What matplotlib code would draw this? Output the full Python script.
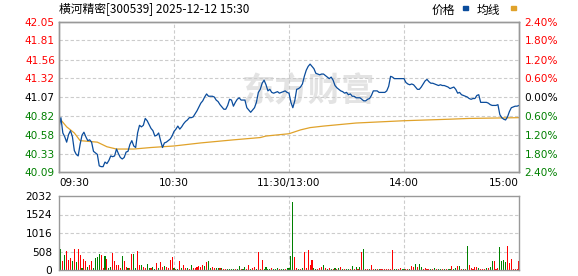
import matplotlib.pyplot as plt
from matplotlib.patches import Rectangle

title = "横河精密[300539] 2025-12-12 15:30"
legend_names = ["价格", "均线"]
watermark = "东方财富"

# one price per minute, 09:30 -> 11:30 / 13:00 -> 15:00 (241 points)
price = [
    40.67, 40.80, 40.60, 40.55, 40.48, 40.58, 40.63, 40.55, 40.37, 40.32,
    40.30, 40.45, 40.57, 40.61, 40.55, 40.50, 40.51, 40.48, 40.36, 40.34,
    40.32, 40.17, 40.16, 40.16, 40.22, 40.20, 40.24, 40.30, 40.29, 40.30,
    40.39, 40.33, 40.28, 40.26, 40.28, 40.35, 40.36, 40.45, 40.50, 40.43,
    40.41, 40.60, 40.70, 40.68, 40.70, 40.79, 40.76, 40.71, 40.66, 40.63,
    40.56, 40.57, 40.60, 40.50, 40.41, 40.47, 40.48, 40.50, 40.52, 40.56,
    40.62, 40.65, 40.69, 40.65, 40.68, 40.72, 40.75, 40.77, 40.80, 40.80,
    40.81, 40.85, 40.89, 40.94, 40.99, 41.02, 41.07, 41.11, 41.08, 41.08,
    41.08, 41.07, 41.03, 41.01, 40.97, 40.94, 40.91, 40.91, 40.96, 41.04,
    41.03, 40.95, 41.00, 41.04, 41.06, 41.03, 41.03, 41.03, 40.93, 40.90,
    40.87, 40.90, 40.93, 41.00, 41.13, 41.17, 41.25, 41.29, 41.23, 41.15,
    41.17, 41.13, 41.12, 41.13, 41.14, 41.12, 41.13, 41.14, 41.15, 41.13,
    41.12, 41.00, 40.93, 41.02, 41.17, 41.18, 41.20, 41.24, 41.34, 41.42,
    41.47, 41.50, 41.47, 41.44, 41.38, 41.37, 41.36, 41.37, 41.37, 41.35,
    41.33, 41.31, 41.33, 41.29, 41.22, 41.19, 41.17, 41.15, 41.14, 41.12,
    41.13, 41.10, 41.11, 41.08, 41.08, 41.06, 41.06, 41.06, 41.04, 41.02,
    41.02, 41.04, 41.05, 41.09, 41.15, 41.15, 41.15, 41.13, 41.13, 41.13,
    41.13, 41.15, 41.21, 41.34, 41.33, 41.31, 41.31, 41.31, 41.31, 41.31,
    41.31, 41.26, 41.24, 41.23, 41.24, 41.23, 41.20, 41.17, 41.17, 41.20,
    41.24, 41.28, 41.30, 41.27, 41.25, 41.25, 41.24, 41.23, 41.22, 41.23,
    41.22, 41.22, 41.21, 41.20, 41.18, 41.19, 41.20, 41.17, 41.12, 41.13,
    41.10, 41.09, 41.08, 41.07, 41.05, 41.04, 41.05, 41.05, 41.09, 41.10,
    41.00, 41.00, 41.00, 41.00, 40.99, 40.97, 40.96, 40.96, 40.96, 40.97,
    40.84, 40.80, 40.78, 40.77, 40.81, 40.88, 40.93, 40.94, 40.95, 40.95,
    40.96,
]

# average price line, read at a few minutes
avg_minute = [0, 4, 8, 11, 20, 25, 30, 39, 48, 60, 74, 91, 105, 108, 120,
              126, 131, 138, 155, 180, 204, 214, 240]
avg_price = [40.80, 40.68, 40.60, 40.50, 40.48, 40.42, 40.39, 40.39, 40.41,
             40.43, 40.47, 40.51, 40.54, 40.56, 40.59, 40.64, 40.67, 40.69,
             40.73, 40.76, 40.78, 40.79, 40.80]

# volume per minute and direction (r = up, g = down), row by row
volume = [
    395, 590, 235, 420, 517, 280, 330, 235, 565, 207, 590, 400, 47,
    310, 235, 94, 140, 235, 66, 330, 350, 450, 420, 47, 375, 300, 47, 75,
    470, 235, 140, 140, 47, 395, 254, 94, 47, 47,
    450, 450, 47, 517, 140, 140, 94, 47, 170, 47, 66, 94, 28, 188, 47, 216,
    94, 113, 75, 47, 263, 350, 47, 28, 28,
    254, 66, 140, 66, 47, 28, 140, 47, 66, 94, 113, 75, 140, 122, 207, 235,
    47, 75, 47, 66, 66, 47, 66, 28, 28,
    28, 28, 28, 28, 28, 28, 122, 28, 28, 94, 28, 140, 28, 47, 94, 28, 490,
    28, 280, 28, 75, 28, 28, 47, 28,
    28, 47, 28, 28, 28, 28, 47, 47, 395,
    1880, 350, 47, 28, 28, 47, 500, 66, 550, 140, 280, 66, 28, 28, 66, 94,
    140, 66, 28, 47, 28,
    28, 47, 28, 47, 75, 28, 28, 28, 28, 28, 113, 28, 94, 28, 94, 490, 565,
    28, 28, 28, 140, 28, 28, 28, 28, 28,
    28, 28, 28, 28, 28, 545, 28, 28, 28, 47, 28, 28, 28, 28, 28, 113, 94,
    170, 94, 170, 75, 28, 47, 28, 28, 28,
    28, 47, 28, 28, 28, 28, 28, 28, 28, 28, 113, 28, 47, 113, 113, 28, 28,
    28, 670, 140, 66, 28, 94, 94, 47, 28,
    28, 28, 47, 47, 94, 250, 235, 28, 66, 640, 250, 275, 230, 660, 200, 300,
    28, 28, 28, 250,
]
vol_dir = (
    "ggrgrrrgrgrrg"
    "rrgrrggggrrgrggrrrrrgrrgr"
    "rggrrgrrggrggrgrrgrrrrgrg"
    "rgrrgrgrrrrrrgrggrrggrgrr"
    "ggggrggrggrrgrrgrrrggggrg"
    "ggrggrggg"
    "grrgrgrrrrrggrrrgrgrg"
    "rgrgrgrggrgrgrgrgrrgrrgrgr"
    "rrrrrrggrrggrrgrrgrggrrrrg"
    "rgrggrgrggrggrgrgrgrrrrrgr"
    "rrgrggrrrggggrrrrrrr"
)
assert len(volume) == len(vol_dir) == len(price)

price_ticks = [42.05, 41.81, 41.56, 41.32, 41.07, 40.82, 40.58, 40.33, 40.09]
pct_labels = ["2.40%", "1.80%", "1.20%", "0.60%", "0.00%",
              "0.60%", "1.20%", "1.80%", "2.40%"]
time_ticks = [0, 60, 120, 180, 240]
time_labels = ["09:30", "10:30", "11:30/13:00", "14:00", "15:00"]
vol_ticks = [0, 508, 1016, 1524, 2032]

RED = "#ff0000"
GREEN = "#008000"
BLUE = "#0a4c9c"
ORANGE = "#e0a22a"
FRAME = "#999999"
GRID = "#cccccc"
CJK = ["Noto Sans CJK SC", "DejaVu Sans"]

W, H = 578, 276
fig = plt.figure(figsize=(W / 100, H / 100), dpi=100)
ax = fig.add_axes([59 / W, 1 - 172 / H, 460 / W, 150 / H])
axv = fig.add_axes([59 / W, 1 - 270 / H, 460 / W, 74 / H])

def tick_color(i, n):
    mid = n // 2
    return RED if i < mid else ("black" if i == mid else GREEN)

# price panel
ax.plot(range(len(price)), price, color=BLUE, lw=0.9, zorder=3)
ax.plot(avg_minute, avg_price, color=ORANGE, lw=0.9, zorder=2)
ax.set_xlim(0, 240)
ax.set_ylim(price_ticks[-1], price_ticks[0])
for p in price_ticks[1:-1]:
    ax.axhline(p, color=GRID, lw=0.8, ls=(0, (3, 2)), zorder=1)
for t in time_ticks[1:-1]:
    ax.axvline(t, color=GRID, lw=0.8, ls=(0, (3, 2)), zorder=1)
ax.set_yticks(price_ticks)
ax.set_yticklabels([f"{p:.2f}" for p in price_ticks], fontsize=7.6)
for i, lab in enumerate(ax.get_yticklabels()):
    lab.set_color(tick_color(i, len(price_ticks)))
ax.set_xticks(time_ticks)
ax.set_xticklabels(time_labels, fontsize=7.5)
xl = ax.get_xticklabels()
xl[0].set_ha("left")
xl[-1].set_ha("right")
ax.tick_params(length=0, pad=3)
ax.tick_params(axis="x", pad=4)

ax2 = ax.twinx()
ax2.set_ylim(ax.get_ylim())
ax2.set_yticks(price_ticks)
ax2.set_yticklabels(pct_labels, fontsize=7.6)
for i, lab in enumerate(ax2.get_yticklabels()):
    lab.set_color(tick_color(i, len(price_ticks)))
ax2.tick_params(length=0, pad=4)

ax.text(130, 41.13, watermark, color="#e3e3e3", fontsize=24, fontweight="bold",
        family=CJK, ha="center", va="center", zorder=0.5)

# volume panel
colors = [RED if c == "r" else GREEN for c in vol_dir]
axv.bar(range(len(volume)), volume, width=0.55, color=colors, zorder=2)
axv.set_xlim(0, 240)
axv.set_ylim(0, vol_ticks[-1])
for v in vol_ticks[1:-1]:
    axv.axhline(v, color=GRID, lw=0.8, ls=(0, (3, 2)), zorder=1)
for t in time_ticks[1:-1]:
    axv.axvline(t, color=GRID, lw=0.8, ls=(0, (3, 2)), zorder=1)
axv.set_yticks(vol_ticks)
axv.set_yticklabels([str(v) for v in vol_ticks], fontsize=7.6)
axv.set_xticks([])
axv.tick_params(length=0, pad=5)

for a in (ax, ax2, axv):
    for s in a.spines.values():
        s.set_color(FRAME)
        s.set_linewidth(1.0)

# header
fig.text(59 / W, 1 - 10 / H, title, fontsize=8.5, family=CJK,
         ha="left", va="center")
fig.text(432 / W, 1 - 10 / H, legend_names[0], fontsize=8.5, family=CJK,
         ha="left", va="center")
fig.add_artist(Rectangle((463 / W, 1 - 9.5 / H), 5 / W, 3 / H,
                         transform=fig.transFigure, color=BLUE))
fig.text(477 / W, 1 - 10 / H, legend_names[1], fontsize=8.5, family=CJK,
         ha="left", va="center")
fig.add_artist(Rectangle((511 / W, 1 - 9.5 / H), 5 / W, 3 / H,
                         transform=fig.transFigure, color=ORANGE))

fig.savefig("out.png", dpi=100)
